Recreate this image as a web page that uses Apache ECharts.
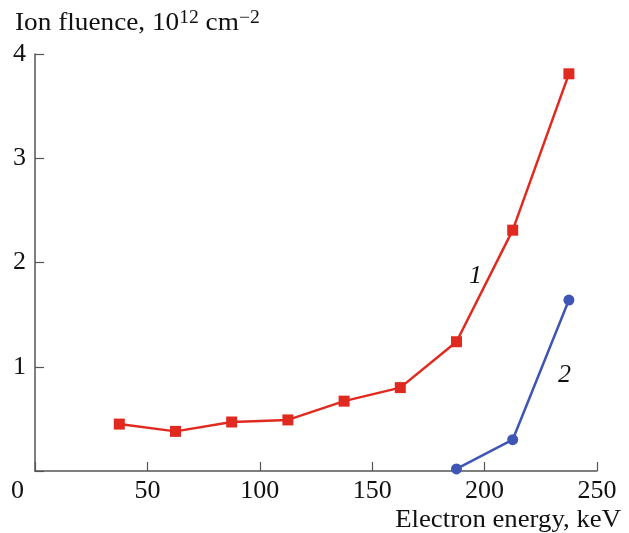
<!DOCTYPE html>
<html>
<head>
<meta charset="utf-8">
<script src="https://cdn.jsdelivr.net/npm/echarts@6/dist/echarts.min.js"></script>
<style>
  html, body { margin: 0; padding: 0; background: #fff; }
  #main { width: 629px; height: 533px; }
</style>
</head>
<body>
<div id="main"></div>
<script>
// electron energy, keV
var energia = [37.5, 62.5, 87.5, 112.5, 137.5, 162.5, 187.5, 212.5, 237.5];
// curve 1 (red squares)
var fluencia1 = [0.45, 0.38, 0.47, 0.49, 0.67, 0.80, 1.24, 2.31, 3.81];
// curve 2 (blue circles)
var energia2 = [187.5, 212.5, 237.5];
var fluencia2 = [0.02, 0.30, 1.64];
// curve numbers and where they sit, in data units
var rotulos = ['1', '2'];
var posRotulos = [[196, 1.87], [235.5, 0.92]];

var fonte = '"Liberation Serif", "DejaVu Serif", serif';
var corEixo = '#555';

function pares(xs, ys) {
	return xs.map(function(x, i) { return [x, ys[i]]; });
}

var myChart = echarts.init(document.getElementById('main'));
var option = {
	animation: false,
	grid: { left: 35, right: 32, top: 54, bottom: 62 },
	xAxis: {
		type: 'value',
		min: 0, max: 250, interval: 50,
		axisLine: { lineStyle: { color: corEixo, width: 1.5 } },
		axisTick: { inside: true, length: 9, lineStyle: { color: corEixo, width: 1.2 } },
		axisLabel: {
			color: '#111', fontFamily: fonte, fontSize: 26, margin: 7,
			formatter: function(v) { return v === 0 ? '' : v; }
		},
		splitLine: { show: false }
	},
	yAxis: {
		type: 'value',
		min: 0, max: 4, interval: 1,
		axisLine: { show: true, lineStyle: { color: corEixo, width: 1.5 } },
		axisTick: { show: true, inside: true, length: 9, lineStyle: { color: corEixo, width: 1.2 } },
		axisLabel: {
			color: '#111', fontFamily: fonte, fontSize: 26, margin: 9,
			formatter: function(v) { return v === 0 ? '' : v; }
		},
		splitLine: { show: false }
	},
	series: [
		{
			name: '1',
			type: 'line',
			data: pares(energia, fluencia1),
			symbol: 'rect',
			symbolSize: 11,
			itemStyle: { color: '#e02a1f' },
			lineStyle: { color: '#e02a1f', width: 2.5 }
		},
		{
			name: '2',
			type: 'line',
			data: pares(energia2, fluencia2),
			symbol: 'circle',
			symbolSize: 11,
			itemStyle: { color: '#3f55b6' },
			lineStyle: { color: '#3f55b6', width: 2.5 }
		}
	],
	graphic: [
		{
			type: 'text', x: 15, y: 9, scaleX: 1.09,
			style: {
				text: '{n|Ion fluence, 10}{s|12}{n| cm}{s|\u22122}',
				rich: {
					n: { fontFamily: fonte, fontSize: 25, fill: '#111', verticalAlign: 'bottom' },
					s: { fontFamily: fonte, fontSize: 18, fill: '#111', verticalAlign: 'bottom', padding: [0, 0, 9, 0] }
				}
			}
		},
		{
			type: 'text', x: 621, y: 508, scaleX: 1.07,
			style: { text: 'Electron energy, keV', fontFamily: fonte, fontSize: 25, fill: '#111', align: 'right' }
		},
		{
			type: 'text', left: 11, top: 478,
			style: { text: '0', fontFamily: fonte, fontSize: 26, fill: '#111' }
		}
	]
};
myChart.setOption(option);

// curve numbers placed from data coordinates
var textos = rotulos.map(function(r, i) {
	var p = myChart.convertToPixel({ gridIndex: 0 }, posRotulos[i]);
	return {
		type: 'text', x: p[0], y: p[1],
		style: {
			text: r, fontFamily: fonte, fontStyle: 'italic', fontSize: 26, fill: '#111',
			align: 'center', verticalAlign: 'middle'
		}
	};
});
myChart.setOption({ graphic: option.graphic.concat(textos) });
</script>
</body>
</html>
